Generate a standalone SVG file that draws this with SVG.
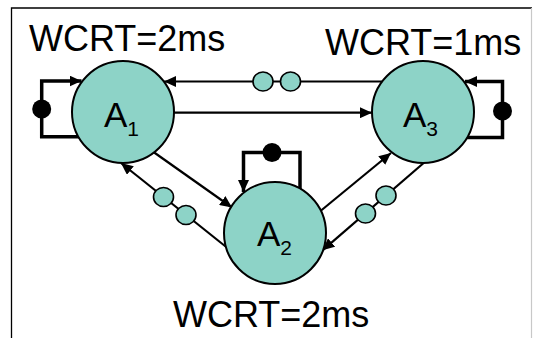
<svg xmlns="http://www.w3.org/2000/svg" width="533" height="338" viewBox="0 0 533 338">
  <style>
    .frame { fill: none; stroke: #000; stroke-width: 1.3; }
    .frame-r { fill: none; stroke: #c8c8c8; stroke-width: 1.2; }
    .node { fill: #8dd3c7; stroke: #000; stroke-width: 2; }
    .bubble { fill: #8dd3c7; stroke: #000; stroke-width: 1.6; }
    .edge { fill: none; stroke: #000; stroke-width: 2.2; }
    .loop { fill: none; stroke: #000; stroke-width: 3.5; stroke-linejoin: miter; }
    .dot { fill: #000; }
    .big { font-family: "Liberation Sans", Arial, sans-serif; font-size: 36px; fill: #000; }
    .lbl { font-family: "Liberation Sans", Arial, sans-serif; font-size: 35px; fill: #000; }
    .sub { font-size: 21px; }
  </style>
  <defs>
    <marker id="arr" viewBox="0 0 12 11" refX="12" refY="5.5" markerWidth="12" markerHeight="11" markerUnits="userSpaceOnUse" orient="auto">
      <path d="M0,0 L12,5.5 L0,11 Z" fill="#000"/>
    </marker>
  </defs>

  <!-- frame -->
  <path class="frame" d="M11.5,338 V8 H532"/>
  <path class="frame-r" d="M531.5,8 V338"/>

  <!-- connectors -->
  <g id="connectors">
    <!-- self loops -->
    <path class="loop" d="M90,136.7 H41.7 V81 H81.5" marker-end="url(#arr)"/>
    <circle class="dot" cx="41.7" cy="109" r="9.5"/>
    <path class="loop" d="M455,137.5 H502.5 V81.5 H465" marker-end="url(#arr)"/>
    <circle class="dot" cx="502.5" cy="111" r="9.5"/>
    <path class="loop" d="M300,200 V152.5 H243.5 V192" marker-end="url(#arr)"/>
    <circle class="dot" cx="272" cy="152.5" r="9.5"/>

    <!-- A3 -> A1 (top) -->
    <path class="edge" d="M395,81.5 H164" marker-end="url(#arr)"/>
    <!-- A1 -> A3 (middle) -->
    <path class="edge" d="M150,112.7 H372" marker-end="url(#arr)"/>
    <!-- A1 -> A2 -->
    <path class="edge" d="M145,146 L232,207.5" marker-end="url(#arr)"/>
    <!-- A2 -> A1 -->
    <path class="edge" d="M235,254 L121,163" marker-end="url(#arr)"/>
    <!-- A2 -> A3 -->
    <path class="edge" d="M315,215.5 L391,153" marker-end="url(#arr)"/>
    <!-- A3 -> A2 -->
    <path class="edge" d="M430,157.5 L322.5,250.3" marker-end="url(#arr)"/>

    <!-- queued tokens -->
    <ellipse class="bubble" cx="263" cy="81.5" rx="10" ry="9.5"/>
    <ellipse class="bubble" cx="290.5" cy="81.5" rx="10" ry="9.5"/>
    <ellipse class="bubble" cx="163.5" cy="197" rx="10" ry="9.5"/>
    <ellipse class="bubble" cx="186" cy="215" rx="10" ry="9.5"/>
    <ellipse class="bubble" cx="386" cy="195.5" rx="10" ry="9.5"/>
    <ellipse class="bubble" cx="365.5" cy="213.5" rx="10" ry="9.5"/>
  </g>

  <!-- actors -->
  <g id="A1">
    <circle class="node" cx="123" cy="112" r="51"/>
    <text class="lbl" x="104" y="127">A<tspan class="sub" dy="9">1</tspan></text>
  </g>
  <g id="A3">
    <circle class="node" cx="423" cy="112" r="51"/>
    <text class="lbl" x="403" y="127">A<tspan class="sub" dy="9">3</tspan></text>
  </g>
  <g id="A2">
    <circle class="node" cx="275" cy="233" r="51"/>
    <text class="lbl" x="257" y="246">A<tspan class="sub" dy="9">2</tspan></text>
  </g>

  <!-- response-time annotations -->
  <text class="big" x="29" y="51">WCRT=2ms</text>
  <text class="big" x="325" y="55">WCRT=1ms</text>
  <text class="big" x="173" y="327">WCRT=2ms</text>
</svg>
